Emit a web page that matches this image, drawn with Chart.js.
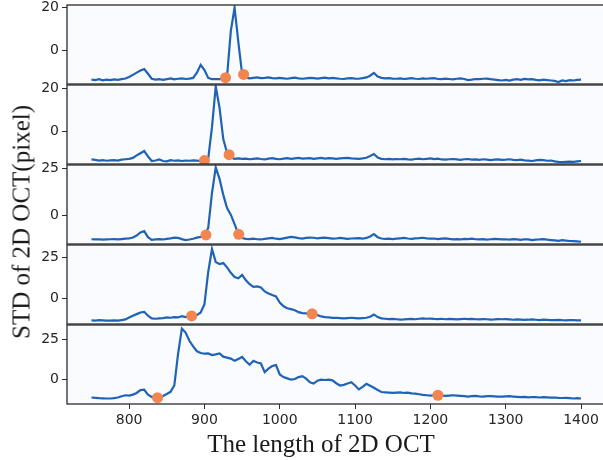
<!DOCTYPE html>
<html>
<head>
<meta charset="utf-8">
<script src="https://cdn.jsdelivr.net/npm/chart.js@4.4.1/dist/chart.umd.min.js"></script>
<style>
  html, body { margin: 0; padding: 0; background: #fff; overflow: hidden; }
  #figure { position: relative; width: 603px; height: 460px; overflow: hidden; background: #fff; }
  .panel { position: absolute; left: 0; width: 610px; }
  .axis-title {
    position: absolute;
    font-family: "Liberation Serif", "Times New Roman", serif;
    font-size: 25px;
    line-height: 1;
    color: #1a1a1a;
    white-space: nowrap;
  }
  #y-title { left: 21px; top: 222px; transform: translate(-50%, -50%) rotate(-90deg); }
  #x-title { left: 321px; top: 443px; transform: translate(-50%, -50%); }
</style>
</head>
<body>
<div id="figure">
  <div class="panel" style="top:-7px;height:93px"><canvas id="panel-1"></canvas></div>
  <div class="panel" style="top:73px;height:93px"><canvas id="panel-2"></canvas></div>
  <div class="panel" style="top:153px;height:93px"><canvas id="panel-3"></canvas></div>
  <div class="panel" style="top:233px;height:93px"><canvas id="panel-4"></canvas></div>
  <div class="panel" style="top:313px;height:147px"><canvas id="panel-5"></canvas></div>
  <div class="axis-title" id="y-title">STD of 2D OCT(pixel)</div>
  <div class="axis-title" id="x-title">The length of 2D OCT</div>
</div>
<script>
// sample positions along the 2D OCT (shared by all five traces)
const lengths = [
  750, 755, 760, 765, 770, 775, 780, 785, 790, 795,
  800, 805, 810, 815, 820, 825, 830, 835, 840, 845,
  850, 855, 860, 865, 870, 875, 880, 885, 890, 895,
  900, 905, 910, 915, 920, 925, 930, 935, 940, 945,
  950, 955, 960, 965, 970, 975, 980, 985, 990, 995,
  1000, 1005, 1010, 1015, 1020, 1025, 1030, 1035, 1040, 1045,
  1050, 1055, 1060, 1065, 1070, 1075, 1080, 1085, 1090, 1095,
  1100, 1105, 1110, 1115, 1120, 1125, 1130, 1135, 1140, 1145,
  1150, 1155, 1160, 1165, 1170, 1175, 1180, 1185, 1190, 1195,
  1200, 1205, 1210, 1215, 1220, 1225, 1230, 1235, 1240, 1245,
  1250, 1255, 1260, 1265, 1270, 1275, 1280, 1285, 1290, 1295,
  1300, 1305, 1310, 1315, 1320, 1325, 1330, 1335, 1340, 1345,
  1350, 1355, 1360, 1365, 1370, 1375, 1380, 1385, 1390, 1395,
  1400
];

const stdPanel1 = [
  -13.2, -13.4, -13.0, -13.5, -13.2, -13.4, -13.1, -13.3, -13.0, -12.7,
  -12.0, -11.0, -10.0, -9.0, -8.4, -10.5, -12.8, -13.2, -13.0, -13.3,
  -13.0, -12.6, -13.1, -12.8, -12.6, -12.9, -12.7, -12.4, -10.0, -6.4,
  -8.8, -12.4, -13.0, -12.9, -13.0, -12.9, -11.8, 9.0, 19.8, 4.0,
  -10.6, -12.3, -12.6, -12.4, -12.2, -12.5, -12.4, -12.2, -12.5, -12.6,
  -12.4, -12.6, -12.8, -12.5, -12.3, -12.6, -12.8, -12.6, -12.4, -12.5,
  -12.7, -12.5, -12.3, -12.6, -12.4, -12.6, -12.8, -12.9, -12.6, -12.5,
  -12.7, -12.8, -12.5, -12.2, -11.4, -10.1, -11.8, -12.4, -12.6, -12.5,
  -12.7, -12.8, -12.6, -12.9, -12.7, -12.5, -12.8, -12.9, -12.6, -12.8,
  -12.6, -12.5, -12.9, -13.0, -12.7, -12.9, -13.1, -12.8, -12.6, -12.9,
  -13.4, -13.2, -12.9, -13.0, -12.8, -12.7, -13.0, -13.2, -13.4, -13.6,
  -13.3, -13.6, -13.2, -13.0, -13.3, -12.9, -13.1, -13.0, -13.3, -13.5,
  -13.2, -13.4, -13.6, -13.8, -14.3, -13.6, -13.9, -13.4, -13.6, -13.3,
  -13.2
];

const stdPanel2 = [
  -12.9, -13.1, -13.4, -13.2, -13.5, -13.3, -13.2, -13.4, -13.0, -12.8,
  -12.6, -12.2, -11.0, -10.0, -9.0, -11.5, -13.6, -13.4, -12.9, -13.6,
  -13.8, -13.2, -13.5, -13.3, -13.6, -13.4, -13.5, -13.3, -13.4, -13.6,
  -13.4, -12.5, 2.0, 20.8, 11.0, -3.5, -9.8, -12.0, -12.6, -12.4,
  -12.6, -12.5, -12.8, -12.6, -12.4, -12.7, -12.9, -12.5, -12.3, -12.6,
  -12.8, -12.5, -12.3, -12.6, -12.4, -12.2, -12.5, -12.4, -12.3, -12.6,
  -12.4, -12.2, -12.5, -12.3, -12.4, -12.6, -12.4, -12.3, -12.2, -12.4,
  -12.5, -12.6, -12.4, -12.1, -11.3, -10.4, -12.0, -12.6, -12.8, -12.6,
  -12.9, -12.7, -12.8, -12.6, -12.9, -13.0, -12.7, -12.5, -12.8, -12.6,
  -12.4, -12.7, -12.5, -12.9, -13.0, -12.8, -12.7, -12.9, -13.1, -12.8,
  -12.7, -13.0, -12.9, -13.1, -12.8, -13.0, -13.2, -13.0, -12.9, -13.1,
  -13.0, -12.8, -13.1, -13.2, -13.0, -13.3, -13.4, -13.6, -13.3, -13.1,
  -13.2, -13.5, -13.4, -13.8, -14.0, -14.1, -14.0, -13.9, -14.0, -13.8,
  -13.6
];

const stdPanel3 = [
  -12.5, -12.6, -12.5, -12.7, -12.6, -12.5, -12.4, -12.6, -12.4, -12.2,
  -12.0, -11.6, -10.5, -8.9, -8.2, -11.4, -12.8, -12.6, -12.4, -12.6,
  -12.3, -12.0, -11.6, -11.8, -12.4, -12.9, -12.6, -12.2, -11.6, -11.2,
  -10.6, -6.5, 12.0, 25.5, 19.5, 11.0, 4.0, 0.5, -4.5, -9.6,
  -11.8, -12.3, -12.4, -12.2, -12.5, -12.6, -12.3, -12.0, -11.8, -12.2,
  -12.4, -12.0, -11.6, -11.2, -11.5, -11.9, -12.1, -11.8, -11.6, -11.7,
  -12.0, -11.8, -11.6, -11.9, -12.2, -12.1, -11.8, -12.0, -12.3, -12.1,
  -12.0, -11.9, -12.2, -11.8, -11.0, -9.8, -11.4, -12.1, -12.3, -12.2,
  -12.4, -12.2, -12.0, -11.8, -12.1, -12.3, -12.0, -11.9, -11.7, -12.0,
  -12.2, -12.1, -12.4, -12.2, -12.0, -12.3, -12.5, -12.4, -12.6, -12.3,
  -12.4, -12.2, -12.5, -12.6, -12.4, -12.7, -12.5, -12.3, -12.4, -12.6,
  -12.5, -12.7, -12.4, -12.6, -12.8, -12.5, -12.6, -12.9, -12.7, -12.6,
  -12.4, -12.7, -12.9, -13.1, -13.3, -13.0, -13.2, -13.4, -13.5, -13.6,
  -13.8
];

const stdPanel4 = [
  -13.4, -13.5, -13.3, -13.4, -13.6, -13.5, -13.4, -13.6, -13.2, -12.8,
  -11.6, -10.6, -9.6, -8.6, -8.2, -10.6, -12.2, -12.4, -12.2, -12.0,
  -11.6, -11.8, -11.4, -11.6, -10.8, -11.4, -10.8, -11.2, -10.2, -8.6,
  -3.5, 16.0, 30.0, 22.0, 20.8, 21.4, 18.8, 15.5, 13.0, 12.2,
  14.2, 11.0, 8.6, 7.0, 7.2, 6.6, 4.2, 3.0, 2.0, 1.2,
  -2.6, -4.8, -6.0, -6.6, -7.2, -8.4, -9.0, -9.2, -9.4, -9.4,
  -10.2, -11.0, -11.4, -11.6, -11.9, -11.8, -12.0, -12.2, -12.0, -11.8,
  -12.0, -12.2, -12.0, -11.8, -11.2, -9.8, -11.4, -12.2, -12.4, -12.6,
  -12.5, -12.7, -12.9, -12.8, -12.6, -12.5, -12.7, -12.4, -12.2, -12.4,
  -12.3, -12.5, -12.6, -12.4, -12.7, -12.5, -12.6, -12.8, -12.6, -12.4,
  -12.6, -12.5, -12.7, -12.8, -12.6, -12.7, -12.9, -12.8, -12.6, -12.7,
  -12.6, -12.8, -13.0, -12.8, -12.9, -13.1, -13.0, -12.8, -13.0, -13.2,
  -13.0, -13.1, -13.3, -13.2, -13.1, -13.3, -13.4, -13.2, -13.3, -13.4,
  -13.4
];

const stdPanel5 = [
  -11.0, -11.2, -11.4, -11.5, -11.6, -11.6, -11.4, -11.0, -10.2, -9.6,
  -9.8, -9.2, -8.2, -6.4, -6.2, -9.2, -10.6, -11.2, -11.0, -10.0,
  -8.8, -7.5, -3.5, 16.0, 31.5, 29.0, 24.0, 20.5, 17.5, 16.4,
  16.0, 16.2, 15.2, 15.6, 16.2, 14.2, 13.6, 13.0, 11.6, 12.8,
  14.0, 11.4, 9.2, 11.6, 10.6, 10.0, 4.6, 6.8, 8.4, 9.0,
  3.2, 1.6, 0.8, 0.0, 0.4, 1.6, 2.2, 0.6, -1.6, -2.4,
  -0.6, 0.0, -0.2, 0.0, -0.4, -2.2, -3.6, -3.2, -2.4, -1.6,
  -3.6, -6.0, -4.4, -2.6, -3.8, -5.0, -6.4, -7.6, -7.8, -8.0,
  -8.2, -8.0, -7.8, -8.2, -8.0, -8.4, -8.6, -9.0, -9.4, -9.6,
  -9.8, -9.6, -9.6, -9.8, -10.0, -9.8, -9.6, -9.8, -10.0, -10.2,
  -10.4, -10.2, -10.0, -10.3, -10.4, -10.2, -10.1, -10.3, -10.5, -10.4,
  -10.3, -10.2, -10.4, -10.6, -10.8, -10.6, -10.9, -10.7, -10.8, -11.0,
  -10.8, -10.9, -11.1, -11.0, -11.2, -11.3, -11.2, -11.4, -11.6, -11.4,
  -11.6
];

// start / end points picked on each trace
const edgeLengths1 = [928, 952];
const edgeStd1 = [-12.3, -10.8];
const edgeLengths2 = [900, 932.7];
const edgeStd2 = [-13.4, -10.7];
const edgeLengths3 = [902, 945.5];
const edgeStd3 = [-10.2, -9.9];
const edgeLengths4 = [883, 1043];
const edgeStd4 = [-10.7, -9.4];
const edgeLengths5 = [837.7, 1210];
const edgeStd5 = [-11.1, -9.6];

const xTickValues = [800, 900, 1000, 1100, 1200, 1300, 1400];
const yTicksSmall = [0, 20];
const yTicksLarge = [0, 25];

(function () {
  const lineColor = '#1f63b6';
  const edgeColor = '#f3854f';
  const frameColor = '#2b2b2b';
  const tickFont = { family: '"DejaVu Sans", sans-serif', size: 14 };

  const panels = [
    { id: 'panel-1', values: stdPanel1, edgeX: edgeLengths1, edgeY: edgeStd1, yMin: -15.2, yMax: 21.0, yTicks: yTicksSmall },
    { id: 'panel-2', values: stdPanel2, edgeX: edgeLengths2, edgeY: edgeStd2, yMin: -15.0, yMax: 21.5, yTicks: yTicksSmall },
    { id: 'panel-3', values: stdPanel3, edgeX: edgeLengths3, edgeY: edgeStd3, yMin: -15.0, yMax: 26.8, yTicks: yTicksLarge },
    { id: 'panel-4', values: stdPanel4, edgeX: edgeLengths4, edgeY: edgeStd4, yMin: -15.6, yMax: 32.4, yTicks: yTicksLarge },
    { id: 'panel-5', values: stdPanel5, edgeX: edgeLengths5, edgeY: edgeStd5, yMin: -15.0, yMax: 33.7, yTicks: yTicksLarge, showX: true },
  ];

  // light plot background plus a full box round every panel
  const panelFrame = {
    id: 'panelFrame',
    beforeDraw(chart) {
      const { ctx, chartArea } = chart;
      ctx.save();
      ctx.fillStyle = '#fafbfe';
      ctx.fillRect(chartArea.left, chartArea.top, chartArea.right - chartArea.left, chartArea.bottom - chartArea.top);
      ctx.restore();
    },
    afterDraw(chart) {
      const { ctx, chartArea } = chart;
      ctx.save();
      ctx.strokeStyle = frameColor;
      ctx.lineWidth = 1.3;
      ctx.strokeRect(chartArea.left, chartArea.top, chartArea.right - chartArea.left, chartArea.bottom - chartArea.top);
      ctx.restore();
    },
  };

  // keep every panel's plot box where the layout puts it, not where labels push it
  function clearScalePadding(scale) {
    scale.paddingTop = 0;
    scale.paddingBottom = 0;
    scale.paddingLeft = 0;
    scale.paddingRight = 0;
  }

  function buildPanel(panel) {
    const canvas = document.getElementById(panel.id);
    if (!canvas) return;

    const linePoints = lengths.map((x, i) => ({ x, y: panel.values[i] }));
    const edgePoints = panel.edgeX.map((x, i) => ({ x, y: panel.edgeY[i] }));

    new Chart(canvas, {
      type: 'line',
      data: {
        datasets: [
          {
            data: edgePoints,
            showLine: false,
            pointRadius: 5.5,
            pointHoverRadius: 5.5,
            pointBackgroundColor: edgeColor,
            pointBorderWidth: 0,
            order: 0,
          },
          {
            data: linePoints,
            borderColor: lineColor,
            borderWidth: 2.2,
            pointRadius: 0,
            tension: 0,
            order: 1,
          },
        ],
      },
      options: {
        responsive: true,
        maintainAspectRatio: false,
        animation: false,
        events: [],
        layout: { autoPadding: false, padding: { top: 12, bottom: panel.showX ? 31 : 2, left: 0, right: 4.5 } },
        plugins: { legend: { display: false }, tooltip: { enabled: false } },
        scales: {
          x: {
            type: 'linear',
            display: !!panel.showX,
            min: 717.5,
            max: 1432.5,
            afterBuildTicks: (scale) => { scale.ticks = xTickValues.map((value) => ({ value })); },
            afterFit: (scale) => {
              if (panel.showX) scale.height = 25;
              clearScalePadding(scale);
            },
            border: { display: false },
            grid: { drawOnChartArea: false, drawTicks: true, tickLength: 5, color: frameColor },
            ticks: { font: tickFont, color: '#262626', padding: 3, maxRotation: 0, callback: (value) => String(value) },
          },
          y: {
            min: panel.yMin,
            max: panel.yMax,
            afterBuildTicks: (scale) => { scale.ticks = panel.yTicks.map((value) => ({ value })); },
            afterFit: (scale) => {
              scale.width = 67;
              clearScalePadding(scale);
            },
            border: { display: false },
            grid: { drawOnChartArea: false, drawTicks: true, tickLength: 5, color: frameColor },
            ticks: { font: tickFont, color: '#262626', padding: 3, callback: (value) => String(value) },
          },
        },
      },
      plugins: [panelFrame],
    });
  }

  panels.forEach(buildPanel);
})();
</script>
</body>
</html>
